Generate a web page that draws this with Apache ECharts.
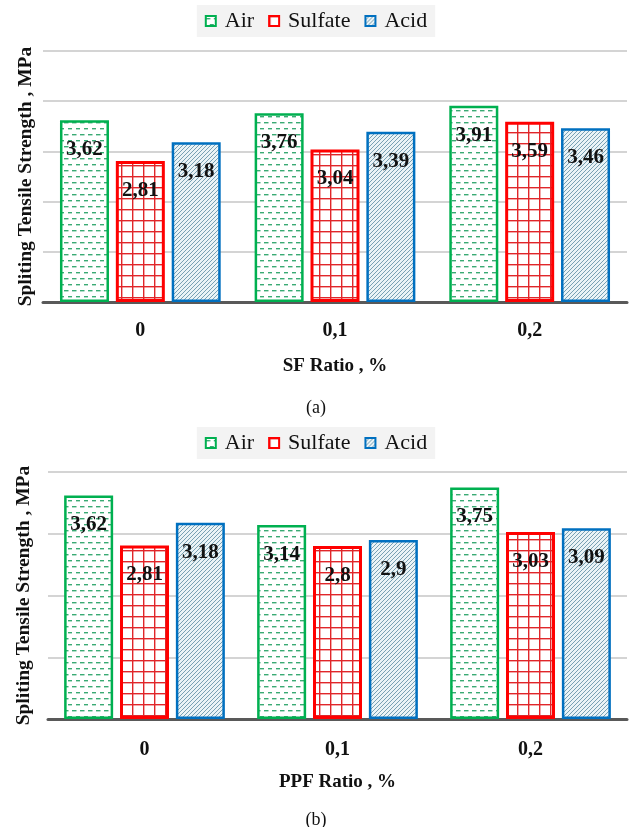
<!DOCTYPE html>
<html>
<head>
<meta charset="utf-8">
<script src="https://cdn.jsdelivr.net/npm/echarts@6/dist/echarts.min.js"></script>
<style>
html,body{margin:0;padding:0;background:#fff;}
#chart{width:632px;height:827px;}
</style>
</head>
<body>
<div id="chart"></div>
<script>
// ---- data ----
const categories = ['0', '0,1', '0,2'];
const seriesNames = ['Air', 'Sulfate', 'Acid'];
const sfAir = [3.62, 3.76, 3.91];
const sfSulfate = [2.81, 3.04, 3.59];
const sfAcid = [3.18, 3.39, 3.46];
const ppfAir = [3.62, 3.14, 3.75];
const ppfSulfate = [2.81, 2.8, 3.03];
const ppfAcid = [3.18, 2.9, 3.09];
const yTitle = 'Spliting Tensile Strength , MPa';
const xTitleA = 'SF Ratio , %';
const xTitleB = 'PPF Ratio , %';

// ---- patterns ----
function makeCanvas(w, h, draw) {
  const c = document.createElement('canvas');
  c.width = w; c.height = h;
  const ctx = c.getContext('2d');
  draw(ctx, w, h);
  return c;
}
const airPat = makeCanvas(8, 12, (ctx, w, h) => {
  ctx.fillStyle = '#ffffff'; ctx.fillRect(0, 0, w, h);
  ctx.fillStyle = '#3aaa74';
  ctx.fillRect(0, 2, 4.5, 1.4);
  ctx.fillRect(4, 8, 4.5, 1.4);
});
const sulPat = makeCanvas(11, 11, (ctx, w, h) => {
  ctx.fillStyle = '#ffffff'; ctx.fillRect(0, 0, w, h);
  ctx.fillStyle = '#e0262a';
  ctx.fillRect(0, 0, 1.4, h);
  ctx.fillRect(0, 0, w, 1.4);
});
const acidPat = makeCanvas(4, 4, (ctx, w, h) => {
  ctx.fillStyle = '#eaf3f6'; ctx.fillRect(0, 0, w, h);
  ctx.strokeStyle = '#5a8aa2';
  ctx.lineWidth = 0.8;
  ctx.beginPath();
  ctx.moveTo(-1, 5); ctx.lineTo(5, -1);
  ctx.moveTo(-1, 1); ctx.lineTo(1, -1);
  ctx.moveTo(3, 5); ctx.lineTo(5, 3);
  ctx.stroke();
});

const styles = {
  Air: { color: { image: airPat, repeat: 'repeat' }, borderColor: '#00b050', borderWidth: 2.5 },
  Sulfate: { color: { image: sulPat, repeat: 'repeat' }, borderColor: '#ff0000', borderWidth: 3 },
  Acid: { color: { image: acidPat, repeat: 'repeat' }, borderColor: '#0070c0', borderWidth: 2.5 }
};

const FONT = '"Liberation Serif", "Times New Roman", serif';

function fmt(v) { return String(v).replace('.', ','); }

function makeSeries(name, data, idx) {
  return {
    type: 'bar', name: name, data: data,
    xAxisIndex: idx, yAxisIndex: idx,
    barWidth: 49, barGap: '14%',
    itemStyle: styles[name],
    label: {
      show: true, position: 'insideTop', distance: 19,
      formatter: p => fmt(p.value),
      fontFamily: FONT, fontWeight: 'bold', fontSize: 21, color: '#111'
    }
  };
}

function xAxis(idx, title) {
  return {
    type: 'category', gridIndex: idx, data: categories,
    axisLine: { lineStyle: { color: '#595959', width: 3 } },
    axisTick: { show: false },
    axisLabel: { fontFamily: FONT, fontWeight: 'bold', fontSize: 20, color: '#111', margin: idx === 0 ? 19 : 21 },
    name: title, nameLocation: 'middle', nameGap: idx === 0 ? 55 : 54,
    nameTextStyle: { fontFamily: FONT, fontWeight: 'bold', fontSize: 19, color: '#111' }
  };
}
function yAxis(idx, max) {
  return {
    type: 'value', gridIndex: idx, min: 0, max: max, interval: 1,
    axisLine: { show: false }, axisTick: { show: false },
    axisLabel: { show: false },
    splitLine: { lineStyle: { color: '#d4d4d4', width: 2 } },
    name: yTitle, nameLocation: 'middle', nameGap: idx === 0 ? 7 : 14,
    nameTextStyle: { fontFamily: FONT, fontWeight: 'bold', fontSize: 19.5, color: '#111' }
  };
}
function legend(top) {
  return {
    data: seriesNames, left: 'center', top: top,
    backgroundColor: '#f3f3f3', padding: [5, 8],
    itemWidth: 10, itemHeight: 10, itemGap: 14,
    icon: 'rect',
    textStyle: { fontFamily: FONT, fontSize: 22, color: '#111', padding: [0, 0, 0, 4] }
  };
}

const chart = echarts.init(document.getElementById('chart'), null, { renderer: 'canvas' });
chart.setOption({
  animation: false,
  backgroundColor: '#ffffff',
  title: [
    { text: '(a)', left: 'center', top: 394, textStyle: { fontFamily: FONT, fontWeight: 'normal', fontSize: 18, color: '#111' } },
    { text: '(b)', left: 'center', top: 806, textStyle: { fontFamily: FONT, fontWeight: 'normal', fontSize: 18, color: '#111' } }
  ],
  legend: [legend(5), legend(427)],
  grid: [
    { left: 43, right: 5, top: 51, height: 251 },
    { left: 48, right: 5, top: 472, height: 247 }
  ],
  xAxis: [xAxis(0, xTitleA), xAxis(1, xTitleB)],
  yAxis: [yAxis(0, 5), yAxis(1, 4)],
  series: [
    makeSeries('Air', sfAir, 0),
    makeSeries('Sulfate', sfSulfate, 0),
    makeSeries('Acid', sfAcid, 0),
    makeSeries('Air', ppfAir, 1),
    makeSeries('Sulfate', ppfSulfate, 1),
    makeSeries('Acid', ppfAcid, 1)
  ]
});
</script>
</body>
</html>
